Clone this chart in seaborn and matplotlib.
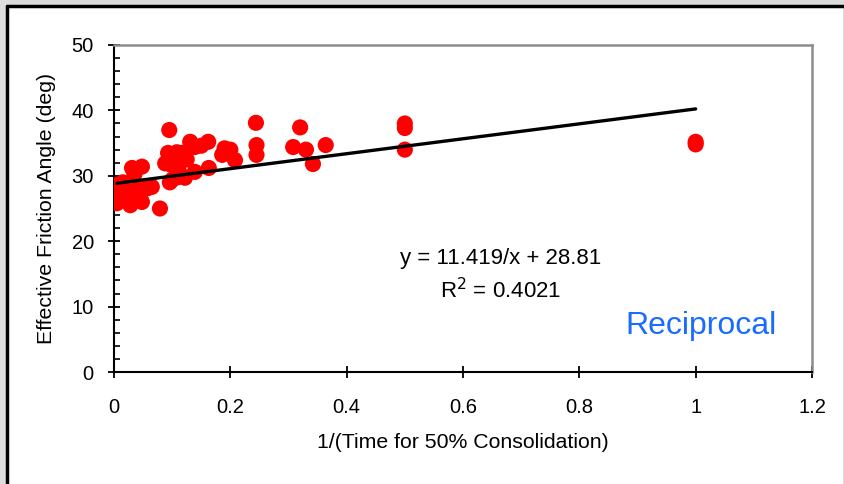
import matplotlib
matplotlib.use("Agg")
import matplotlib.pyplot as plt
from matplotlib.lines import Line2D
from matplotlib.patches import Rectangle
from matplotlib.ticker import MultipleLocator
import numpy as np
import pandas as pd
import seaborn as sns

# Data
inv_t50 = [0.005, 0.005, 0.01, 0.015, 0.024, 0.028, 0.03, 0.031, 0.035, 0.041,
           0.045, 0.048, 0.048, 0.058, 0.065, 0.079, 0.088, 0.093, 0.095, 0.096,
           0.1, 0.1, 0.108, 0.11, 0.113, 0.117, 0.119, 0.122, 0.125, 0.131,
           0.139, 0.139, 0.15, 0.162, 0.163, 0.186, 0.19, 0.2, 0.208, 0.244,
           0.245, 0.245, 0.308, 0.32, 0.33, 0.342, 0.364, 0.5, 0.5, 0.5,
           1.0, 1.0]
phi = [25.8, 28.6, 27.3, 29.0, 27.5, 25.5, 27.0, 31.2, 30.2, 28.3,
       26.5, 26.0, 31.4, 28.1, 28.3, 25.0, 31.9, 33.5, 37.0, 29.0,
       31.6, 29.4, 33.6, 29.8, 30.4, 33.5, 32.4, 29.7, 32.5, 35.2,
       34.4, 30.6, 34.6, 35.2, 31.2, 33.2, 34.2, 34.0, 32.4, 38.1,
       34.7, 33.2, 34.4, 37.4, 34.0, 31.8, 34.7, 38.0, 37.3, 34.0,
       35.2, 34.8]

slope = 11.419
intercept = 28.81
r_squared = 0.4021

df = pd.DataFrame({"x": inv_t50, "y": phi})

sns.set_style("ticks")
plt.rcParams["font.family"] = ["Liberation Sans", "DejaVu Sans"]
plt.rcParams["text.color"] = "black"
plt.rcParams["axes.labelcolor"] = "black"
plt.rcParams["xtick.color"] = "black"
plt.rcParams["ytick.color"] = "black"

fig = plt.figure(figsize=(8.45, 4.84), dpi=100)
fig.patch.set_facecolor("#dcdcdc")

# White panel with black left/top border
fig.patches.append(Rectangle((7 / 845, 0), 836 / 845, 478 / 484,
                             transform=fig.transFigure, facecolor="white",
                             edgecolor="none", zorder=-10))
fig.lines.append(Line2D([7 / 845, 7 / 845], [0, 478 / 484],
                        transform=fig.transFigure, color="black", lw=2.5))
fig.lines.append(Line2D([7 / 845, 843 / 845], [478 / 484, 478 / 484],
                        transform=fig.transFigure, color="black", lw=2.5))

ax = fig.add_axes([114 / 845, 1 - 372 / 484, 698 / 845, 327 / 484])
ax.set_facecolor("white")

sns.scatterplot(data=df, x="x", y="y", ax=ax, color="#ff0000", s=135,
                edgecolor="none", linewidth=0, zorder=3)

# Trend line from the fitted equation over the data range
xl = np.array([min(inv_t50), max(inv_t50)])
ax.plot(xl, slope * xl + intercept, color="black", lw=2.4, zorder=4)

ax.set_xlim(0, 1.2)
ax.set_ylim(0, 50)
ax.yaxis.set_major_locator(MultipleLocator(10))
ax.yaxis.set_minor_locator(MultipleLocator(2))
ax.set_xticks(np.arange(0, 1.21, 0.2))
ax.set_xticklabels(["0", "0.2", "0.4", "0.6", "0.8", "1", "1.2"])

ax.tick_params(axis="both", which="major", direction="inout", length=9,
               width=1.3, color="black", labelcolor="black", labelsize=14.5)
ax.tick_params(axis="x", which="major", pad=14)
ax.tick_params(axis="y", which="major", pad=10)
ax.tick_params(axis="y", which="minor", direction="in", length=4,
               width=1.2, color="black")

for side in ["left", "bottom"]:
    ax.spines[side].set_color("black")
    ax.spines[side].set_linewidth(1.5)
for side in ["top", "right"]:
    ax.spines[side].set_visible(True)
    ax.spines[side].set_color("#8c8c8c")
    ax.spines[side].set_linewidth(1.8)

ax.set_xlabel("1/(Time for 50% Consolidation)", fontsize=15.3, labelpad=12,
              color="black")
ax.set_ylabel("Effective Friction Angle (deg)", fontsize=15.3, labelpad=11,
              color="black")

ax.text(0.664, 17.4, f"y = {slope}/x + {intercept}", ha="center",
        va="center", fontsize=16, color="black")
ax.text(0.664, 12.4, f"R$^2$ = {r_squared}", ha="center", va="center",
        fontsize=16, color="black")
ax.text(1.14, 7.0, "Reciprocal", ha="right", va="center", fontsize=23,
        color="#1a6cff")

fig.savefig("out.png", dpi=100, facecolor=fig.get_facecolor())
